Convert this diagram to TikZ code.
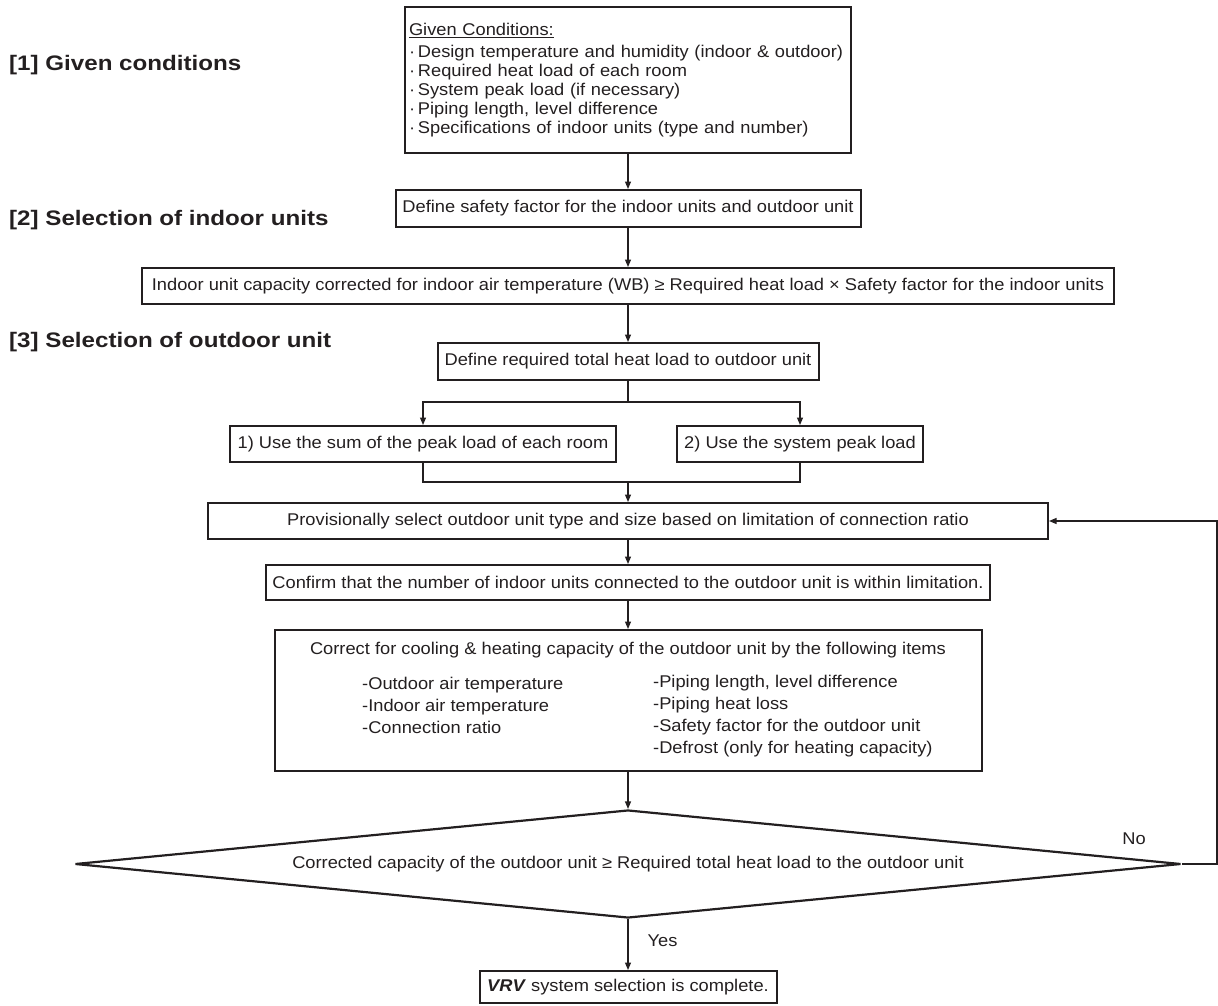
\documentclass[tikz,border=0pt]{standalone}
\usepackage{fontspec}
\setmainfont{Liberation Sans}[FakeStretch=1.075]
\newfontfamily\stagefont{Liberation Sans}[FakeStretch=1.15]
\usepackage{tikz}
\usetikzlibrary{arrows.meta,positioning,calc,shapes.geometric}
\definecolor{ink}{HTML}{231F20}
\newcommand{\Stage}[1]{{\stagefont\bfseries\fontsize{21}{24}\selectfont #1}}

\begin{document}
\begin{tikzpicture}[x=1pt, y=-1pt, font=\fontsize{17}{19}\selectfont, color=ink,
    box/.style={draw=ink, line width=2pt, inner sep=0pt, align=center},
    decision/.style={draw=ink, line width=2.2pt, diamond, inner sep=0pt},
    stage/.style={anchor=west, inner sep=0pt},
    arr/.style={line width=1.2pt, -{Triangle[length=7.5pt,width=6pt]}},
    link/.style={line width=1.2pt}]
  \useasboundingbox (0,0) rectangle (1218,1006);
  \node[stage] (s1) at (9,65) {\Stage{[1] Given conditions}};
  \node[stage] (s2) at (9,220) {\Stage{[2] Selection of indoor units}};
  \node[stage] (s3) at (9,342) {\Stage{[3] Selection of outdoor unit}};
  \node[box, align=left, text width=438pt, inner xsep=4pt, minimum height=146pt] (gc) at (628,80) {%
    \underline{Given Conditions:}\\[3pt]
    ·\,Design temperature and humidity (indoor \& outdoor)\\
    ·\,Required heat load of each room\\
    ·\,System peak load (if necessary)\\
    ·\,Piping length, level difference\\
    ·\,Specifications of indoor units (type and number)};
  \node[box, minimum width=465pt, minimum height=37pt] (sf) at (628,208.5)
    {Define safety factor for the indoor units and outdoor unit};
  \node[box, minimum width=972pt, minimum height=36pt] (iu) at (628,286)
    {Indoor unit capacity corrected for indoor air temperature (WB) ≥ Required heat load × Safety factor for the indoor units};
  \node[box, minimum width=381pt, minimum height=37pt] (rt) at (628,361.5)
    {Define required total heat load to outdoor unit};
  \node[box, minimum width=386pt, minimum height=36pt] (b1) at (423,444)
    {1) Use the sum of the peak load of each room};
  \node[box, minimum width=246pt, minimum height=36pt] (b2) at (800,444)
    {2) Use the system peak load};
  \node[box, minimum width=840pt, minimum height=36pt] (pv) at (628,521)
    {Provisionally select outdoor unit type and size based on limitation of connection ratio};
  \node[box, minimum width=724pt, minimum height=35pt] (cf) at (628,582.5)
    {Confirm that the number of indoor units connected to the outdoor unit is within limitation.};
  \node[box, minimum width=707pt, minimum height=141pt] (cr) at (628,700.5) {};
  \node[inner sep=0pt] (crt) at (628,650)
    {Correct for cooling \& heating capacity of the outdoor unit by the following items};
  \node[stage, align=left, font=\fontsize{17}{22}\selectfont] (crl) at (362,705)
    {-Outdoor air temperature\\-Indoor air temperature\\-Connection ratio};
  \node[stage, align=left, font=\fontsize{17}{22}\selectfont] (crr) at (653,716)
    {-Piping length, level difference\\-Piping heat loss\\-Safety factor for the outdoor unit\\-Defrost (only for heating capacity)};
  \node[decision, minimum width=1106pt, minimum height=108pt] (ok) at (628,864) {};
  \node[inner sep=0pt] (okt) at (ok.center)
    {Corrected capacity of the outdoor unit ≥ Required total heat load to the outdoor unit};
  \node[box, minimum width=297pt, minimum height=32pt] (fn) at (628,987)
    {\textbf{\textit{VRV}} system selection is complete.};
  \node[inner sep=0pt] (no) at (1134,839) {No};
  \coordinate (sp) at (628,402);
  \coordinate (mg) at (628,482);
  \coordinate (fb) at (1217,864);

  \draw[arr] (gc) -- (sf);
  \draw[arr] (sf) -- (iu);
  \draw[arr] (iu) -- (rt);
  \draw[link] (rt) -- (sp);
  \draw[arr] (sp) -| (b1.north);
  \draw[arr] (sp) -| (b2.north);
  \draw[link] (b1.south) |- (mg) -| (b2.south);
  \draw[arr] (mg) -- (pv);
  \draw[arr] (pv) -- (cf);
  \draw[arr] (cf) -- (cr);
  \draw[arr] (cr) -- (ok.north);
  \draw[arr] (ok.south) -- (fn) node[pos=0.42, anchor=west, xshift=19pt, inner sep=0pt] (yes) {Yes};
  \draw[arr] (ok.east) -- (fb) |- (pv.east);
\end{tikzpicture}
\end{document}
